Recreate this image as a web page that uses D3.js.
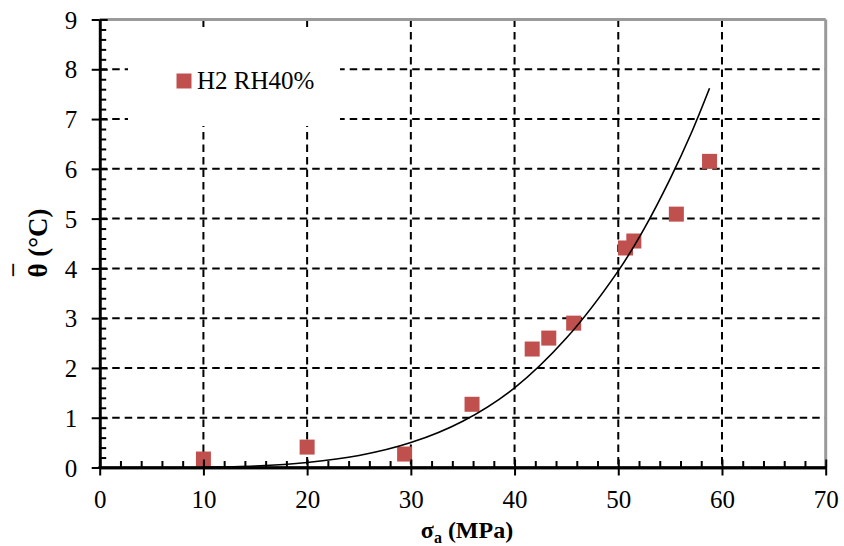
<!DOCTYPE html>
<html><head><meta charset="utf-8">
<script src="https://cdn.jsdelivr.net/npm/d3@7"></script>
<style>body{margin:0;background:#fff}svg{display:block}svg text{font-family:"Times New Roman","Liberation Serif","DejaVu Serif",serif !important}</style>
</head><body><svg id="c" width="844" height="546"></svg>
<script>
// Data
const seriesName = "H2 RH40%";
const sigmaA = [10, 20, 29.4, 35.9, 41.7, 43.3, 45.7, 50.7, 51.5, 55.6, 58.8];
const thetaBar = [0.17, 0.41, 0.27, 1.27, 2.38, 2.6, 2.9, 4.41, 4.55, 5.09, 6.15];
// Trendline
const trendX = [10, 15, 20, 25, 30, 35, 40, 45, 50, 52.5, 55, 57, 58.8];
const trendY = [0.006, 0.03, 0.1, 0.24, 0.5, 0.93, 1.6, 2.6, 3.95, 4.8, 5.8, 6.7, 7.62];
const xTicks = [0, 10, 20, 30, 40, 50, 60, 70];
const yTicks = [0, 1, 2, 3, 4, 5, 6, 7, 8, 9];
const xMinor = d3.range(0, 70.01, 2);
const yMinor = d3.range(0, 9.01, 0.2);

const FONT = '"Times New Roman","Liberation Serif","DejaVu Serif",serif';
const svg = d3.select("#c");
const x = d3.scaleLinear().domain([0, 70]).range([99.7, 825.7]);
const y = d3.scaleLinear().domain([0, 9]).range([467.5, 19.5]);
const x0 = x(0), x1 = x(70), y0 = y(0), y1 = y(9);

// grid
const grid = svg.append("g").attr("stroke", "#000").attr("stroke-width", 2).attr("stroke-dasharray", "7.5,5");
grid.selectAll(".h").data(yTicks.filter(d => d > 0 && d < 9)).join("line")
  .attr("x1", x0).attr("x2", x1).attr("y1", d => y(d)).attr("y2", d => y(d));
grid.selectAll(".v").data(xTicks.filter(d => d > 0 && d < 70)).join("line")
  .attr("y1", y1).attr("y2", y0).attr("x1", d => x(d)).attr("x2", d => x(d));

// top/right border
svg.append("line").attr("x1", x0).attr("x2", x1).attr("y1", y1).attr("y2", y1)
  .attr("stroke", "#9a9a9a").attr("stroke-width", 3);
svg.append("line").attr("x1", x1).attr("x2", x1).attr("y1", y1).attr("y2", y0)
  .attr("stroke", "#9a9a9a").attr("stroke-width", 3);

// legend background
svg.append("rect").attr("x", 128).attr("y", 30).attr("width", 212).attr("height", 96).attr("fill", "#fff");

// markers
const ms = 15;
svg.append("g").selectAll("rect").data(sigmaA.map((v, i) => [v, thetaBar[i]])).join("rect")
  .attr("x", d => x(d[0]) - ms / 2).attr("y", d => y(d[1]) - ms / 2)
  .attr("width", ms).attr("height", ms).attr("fill", "#C0504D");

// trendline
svg.append("path").datum(trendX.map((v, i) => [v, trendY[i]]))
  .attr("fill", "none").attr("stroke", "#000").attr("stroke-width", 1.6)
  .attr("d", d3.line().x(d => x(d[0])).y(d => y(d[1])).curve(d3.curveCatmullRom));

// axes
const ax = svg.append("g").attr("transform", `translate(0,${y0})`)
  .call(d3.axisBottom(x).tickValues(xTicks).tickSizeInner(8).tickSizeOuter(0).tickPadding(10));
svg.append("g").attr("transform", `translate(0,${y0})`)
  .call(d3.axisTop(x).tickValues(xMinor).tickSizeInner(6.5).tickSizeOuter(0).tickFormat(""))
  .call(g => g.selectAll(".tick line").filter(d => d % 10 === 0).attr("y2", -8));
const ay = svg.append("g").attr("transform", `translate(${x0},0)`)
  .call(d3.axisLeft(y).tickValues(yTicks).tickSizeInner(8).tickSizeOuter(0).tickPadding(14));
svg.append("g").attr("transform", `translate(${x0},0)`)
  .call(d3.axisRight(y).tickValues(yMinor).tickSizeInner(6.5).tickSizeOuter(0).tickFormat(""))
  .call(g => g.selectAll(".tick line").filter(d => Math.abs(d - Math.round(d)) < 1e-6).attr("x2", 8));

svg.selectAll("g").attr("font-family", FONT);
svg.selectAll(".domain").attr("stroke", "#000").attr("stroke-width", 2.6);
svg.selectAll(".tick line").attr("stroke", "#000").attr("stroke-width", 2);
ax.selectAll("text").attr("font-size", 25).attr("fill", "#000")
  .attr("dy", null).attr("y", 40.5);
ay.selectAll("text").attr("font-size", 25).attr("fill", "#000")
  .attr("dy", null).attr("x", -22.5).attr("y", 8.7);
// redraw x-axis domain line over everything
svg.append("line").attr("x1", x0 - 1.3).attr("x2", x1 + 1.3).attr("y1", y0).attr("y2", y0).attr("stroke", "#000").attr("stroke-width", 2.6);

// legend
svg.append("rect").attr("x", 184 - ms / 2).attr("y", 81 - ms / 2).attr("width", ms).attr("height", ms).attr("fill", "#C0504D");
svg.append("text").attr("x", 197).attr("y", 89.3).attr("font-size", 25).attr("font-family", FONT).text(seriesName);

// axis titles
const xt = svg.append("text").attr("x", 467).attr("y", 538).attr("text-anchor", "middle")
  .attr("font-size", 24).attr("font-weight", "bold").attr("font-family", FONT);
xt.append("tspan").text("σ");
xt.append("tspan").attr("font-size", 16).attr("dy", 5).text("a");
xt.append("tspan").attr("dy", -5).text(" (MPa)");

svg.append("text").attr("transform", "translate(47,243) rotate(-90)").attr("text-anchor", "middle")
  .attr("font-size", 27).attr("font-weight", "bold").attr("font-family", FONT).text("θ (°C)");
svg.append("text").attr("transform", "translate(30,270) rotate(-90)").attr("text-anchor", "middle")
  .attr("font-size", 24).attr("font-weight", "bold").attr("font-family", FONT).text("¯");
</script></body></html>
